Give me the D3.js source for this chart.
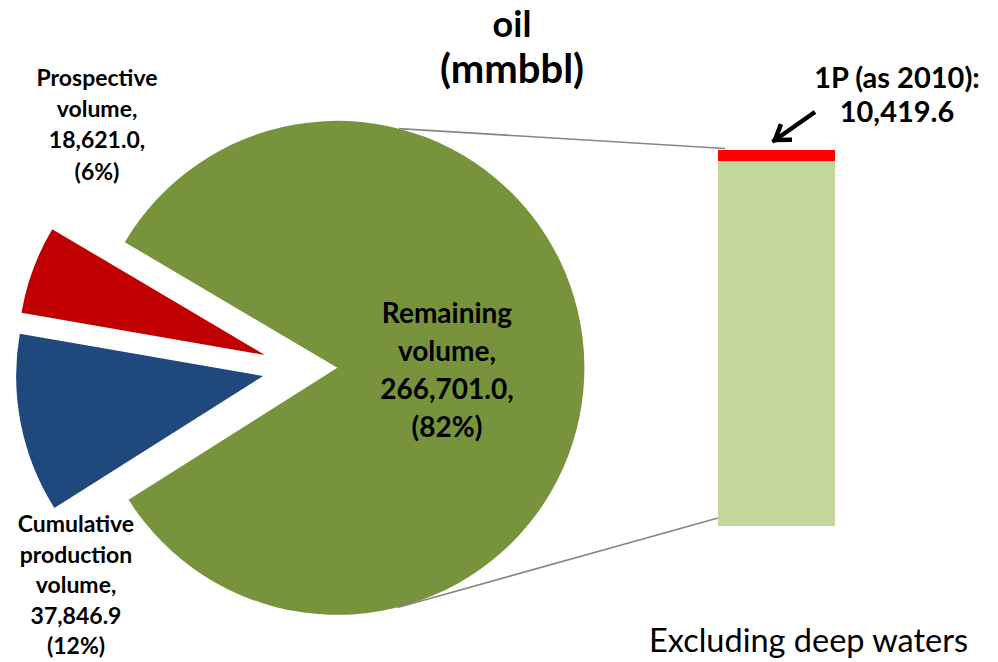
<!DOCTYPE html>
<html>
<head>
<meta charset="utf-8">
<script src="https://cdn.jsdelivr.net/npm/d3@7"></script>
<style>
  html, body { margin: 0; padding: 0; background: #ffffff; }
  svg { display: block; }
  text { font-family: Lato, "Open Sans", "Liberation Sans", sans-serif; fill: #000; }
</style>
</head>
<body>
<svg id="chart" width="998" height="662"></svg>
<script>
// Oil volumes (mmbbl), excluding deep waters
const categories = ["Remaining volume", "Cumulative production volume", "Prospective volume"];
const volumes = [266701.0, 37846.9, 18621.0];
const percentLabels = ["(82%)", "(12%)", "(6%)"];

// Breakdown of the remaining volume shown in the side bar
const barCategories = ["Rest of remaining volume", "1P (as 2010)"];
const barValues = [345500, 10419.6];

const titleLines = ["oil", "(mmbbl)"];
const footnote = "Excluding deep waters";

const svg = d3.select("#chart");

const pieColors = d3.scaleOrdinal().domain(categories).range(["#77933C", "#1F497D", "#C00000"]);
const barColors = d3.scaleOrdinal().domain(barCategories).range(["#C3D69B", "#FF0000"]);

// ---- pie ----
const cx = 301.4, cy = 368.4, R = 247;
const deg = Math.PI / 180;
const start = -59.4 * deg;
const explode = { "Remaining volume": 36, "Cumulative production volume": 39, "Prospective volume": 39 };

const pie = d3.pie().sort(null).value(d => d.v).startAngle(start).endAngle(start + 2 * Math.PI);
const arcs = pie(categories.map((c, i) => ({ c, v: volumes[i] })));
const arc = d3.arc().innerRadius(0).outerRadius(R);

function offset(a) {
  const mid = (a.startAngle + a.endAngle) / 2;
  const e = explode[a.data.c];
  return [e * Math.sin(mid), -e * Math.cos(mid)];
}

const pieG = svg.append("g").attr("transform", `translate(${cx},${cy})`);
pieG.selectAll("path.slice")
  .data(arcs)
  .join("path")
  .attr("class", "slice")
  .attr("d", arc)
  .attr("fill", d => pieColors(d.data.c))
  .attr("transform", d => `translate(${offset(d)})`);

// ---- bar ----
const barX = 718, barW = 117;
const barTotal = d3.sum(barValues);
const y = d3.scaleLinear().domain([0, barTotal]).range([526, 150]);
const stacked = d3.stack().keys(barCategories)([Object.fromEntries(barCategories.map((k, i) => [k, barValues[i]]))]);

svg.append("g").selectAll("rect")
  .data(stacked)
  .join("rect")
  .attr("x", barX)
  .attr("width", barW)
  .attr("y", d => y(d[0][1]))
  .attr("height", d => y(d[0][0]) - y(d[0][1]))
  .attr("fill", d => barColors(d.key));

// ---- connector lines from the remaining slice to the bar ----
const green = arcs[0];
const [gx, gy] = offset(green);
const gcx = cx + gx, gcy = cy + gy;
const connectors = [
  { a: 14.4 * deg, tx: barX + 7, ty: y(barTotal) - 1.5 },
  { a: 165.9 * deg, tx: barX, ty: y(0) - 8 }
];
svg.append("g").selectAll("line")
  .data(connectors)
  .join("line")
  .attr("x1", d => gcx + R * Math.sin(d.a))
  .attr("y1", d => gcy - R * Math.cos(d.a))
  .attr("x2", d => d.tx)
  .attr("y2", d => d.ty)
  .attr("stroke", "#868686")
  .attr("stroke-width", 1.6);

// ---- title ----
svg.append("g").selectAll("text")
  .data(titleLines)
  .join("text")
  .attr("x", 512)
  .attr("y", (d, i) => 37 + i * 46)
  .attr("text-anchor", "middle")
  .attr("font-size", (d, i) => i === 0 ? 36 : 40)
  .attr("font-weight", 700)
  .text(d => d);

// ---- slice labels ----
const fmt = d3.format(",.1f");
function labelLines(i) {
  const name = categories[i];
  if (i === 1) return ["Cumulative", "production", "volume,", fmt(volumes[i]), percentLabels[i]];
  const parts = name.split(" ");
  return [parts[0], parts[1] + ",", fmt(volumes[i]) + ",", percentLabels[i]];
}
const labelSpecs = [
  { i: 0, x: 447, y0: 323, dy: 38, size: 28 },
  { i: 1, x: 76, y0: 532, dy: 30.6, size: 23 },
  { i: 2, x: 97, y0: 86, dy: 31.2, size: 23 }
];
labelSpecs.forEach(s => {
  svg.append("g").selectAll("text")
    .data(labelLines(s.i))
    .join("text")
    .attr("x", s.x)
    .attr("y", (d, k) => s.y0 + k * s.dy)
    .attr("text-anchor", "middle")
    .attr("font-size", s.size)
    .attr("font-weight", 700)
    .text(d => d);
});

// ---- 1P annotation ----
const annot = [barCategories[1] + ":", fmt(barValues[1])];
svg.append("g").selectAll("text")
  .data(annot)
  .join("text")
  .attr("x", 897)
  .attr("y", (d, k) => 88 + k * 34)
  .attr("text-anchor", "middle")
  .attr("font-size", 29)
  .attr("font-weight", 700)
  .text(d => d);

// arrow pointing at the 1P segment
const ax1 = 815, ay1 = 112, ax2 = 775, ay2 = 140;
const ang = Math.atan2(ay2 - ay1, ax2 - ax1);
const headLen = 17, headSpread = 0.6;
const arrow = svg.append("g").attr("stroke", "#000").attr("fill", "none").attr("stroke-linecap", "butt").attr("stroke-linejoin", "miter");
arrow.append("line")
  .attr("x1", ax1).attr("y1", ay1).attr("x2", ax2 + 3 * Math.cos(ang)).attr("y2", ay2 + 3 * Math.sin(ang))
  .attr("stroke-width", 4.5);
arrow.append("path")
  .attr("d", d3.line()([
    [ax2 - headLen * Math.cos(ang - headSpread), ay2 - headLen * Math.sin(ang - headSpread)],
    [ax2, ay2],
    [ax2 - headLen * Math.cos(ang + headSpread), ay2 - headLen * Math.sin(ang + headSpread)]
  ]))
  .attr("stroke-width", 4.5);

// ---- footnote ----
svg.append("text")
  .attr("x", 968)
  .attr("y", 652)
  .attr("text-anchor", "end")
  .attr("font-size", 32.5)
  .text(footnote);
</script>
</body>
</html>
